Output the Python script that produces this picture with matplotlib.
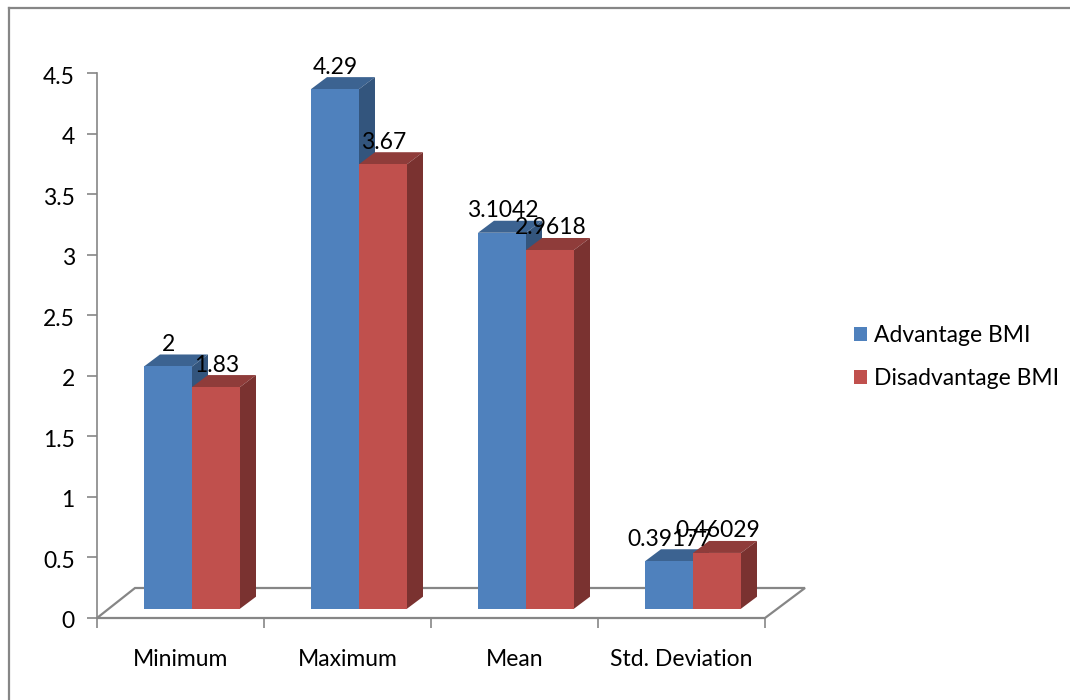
import matplotlib
matplotlib.use('Agg')
import matplotlib.pyplot as plt
from matplotlib.patches import Polygon, Patch
from matplotlib.lines import Line2D
from matplotlib.transforms import ScaledTranslation

categories = ['Minimum', 'Maximum', 'Mean', 'Std. Deviation']
advantage = [2, 4.29, 3.1042, 0.39177]
disadvantage = [1.83, 3.67, 2.9618, 0.46029]
y_ticks = [0, 0.5, 1, 1.5, 2, 2.5, 3, 3.5, 4, 4.5]
y_labels = ['0', '0.5', '1', '1.5', '2', '2.5', '3', '3.5', '4', '4.5']
series_names = ['Advantage BMI', 'Disadvantage BMI']

plt.rcParams['font.family'] = ['Lato', 'DejaVu Sans']
W, H = 1070, 700
GREY = '#868686'
FS = 16.5

fig = plt.figure(figsize=(W / 100, H / 100), dpi=100)
ax = fig.add_axes([97 / W, 1 - 618 / H, 668 / W, 545 / H])
ax.set_xlim(0, 4)
ax.set_ylim(0, 4.5)

# fake 3d offsets, in data units
dx = 16 / 167
dy = 12 / 121.1
base = 9.3 / 121.1
bar_w = 48 / 167
start = 47 / 167

# floor
floor_x = [0, 38 / 167, 4 + 40 / 167, 4]
floor_y = [0, 30 / 121.1, 30 / 121.1, 0]
ax.add_patch(Polygon(list(zip(floor_x, floor_y)), closed=True, fc='white', ec=GREY,
                     lw=1.6, clip_on=False, zorder=1))


def draw_bars(values, offset, front, top, side, z):
    for i, v in enumerate(values):
        x0 = i + start + offset
        x1 = x0 + bar_w
        y1 = base + v
        ax.bar(x0, v, width=bar_w, bottom=base, align='edge', color=front, zorder=z + 0.2)
        ax.add_patch(Polygon([(x0, y1), (x0 + dx, y1 + dy), (x1 + dx, y1 + dy), (x1, y1)],
                             closed=True, fc=top, ec='none', zorder=z, clip_on=False))
        ax.add_patch(Polygon([(x1, base), (x1 + dx, base + dy), (x1 + dx, y1 + dy), (x1, y1)],
                             closed=True, fc=side, ec='none', zorder=z, clip_on=False))


draw_bars(advantage, 0, '#4F81BD', '#3C6391', '#33557D', 2)
draw_bars(disadvantage, bar_w, '#C0504D', '#8F3C3A', '#7A3230', 3)

# data labels
for i, (a, d) in enumerate(zip(advantage, disadvantage)):
    for v, off in ((a, 0), (d, bar_w)):
        ax.annotate(str(v), (i + start + off + bar_w / 2 + 0.004, base + v), xytext=(0, 11.5),
                    textcoords='offset pixels', ha='center', va='bottom', fontsize=FS,
                    color='black', zorder=6, annotation_clip=False)

ax.set_xticks([0, 1, 2, 3, 4])
ax.set_xticklabels([])
ax.set_xticks([0.5, 1.5, 2.5, 3.5], minor=True)
ax.set_xticklabels(categories, minor=True, fontsize=FS)
ax.set_yticks(y_ticks)
ax.set_yticklabels(y_labels, fontsize=FS)
ax.tick_params(axis='x', which='major', length=7, width=1.2, color=GREY)
ax.tick_params(axis='x', which='minor', length=0, pad=22)
ax.tick_params(axis='y', length=7, width=1.2, color=GREY, pad=9)
for lab in ax.get_yticklabels():
    lab.set_transform(lab.get_transform() + ScaledTranslation(0, -2 / 100, fig.dpi_scale_trans))
for s in ('top', 'right'):
    ax.spines[s].set_visible(False)
for s in ('left', 'bottom'):
    ax.spines[s].set_color(GREY)
    ax.spines[s].set_linewidth(1.2)
ax.patch.set_alpha(0)

# outer chart frame
fig.add_artist(Line2D([9 / W, 9 / W], [0, 1 - 8 / H], color=GREY, lw=1.6))
fig.add_artist(Line2D([9 / W, 1], [1 - 8 / H, 1 - 8 / H], color=GREY, lw=1.6))

handles = [Patch(fc='#4F81BD', label=series_names[0]), Patch(fc='#C0504D', label=series_names[1])]
fig.legend(handles=handles, loc='center left', bbox_to_anchor=(847 / W, 1 - 357 / H), frameon=False,
           fontsize=FS, handlelength=0.57, handleheight=0.57, handletextpad=0.3, labelspacing=0.98,
           borderpad=0.3, borderaxespad=0)

fig.savefig('out.png', dpi=100)
